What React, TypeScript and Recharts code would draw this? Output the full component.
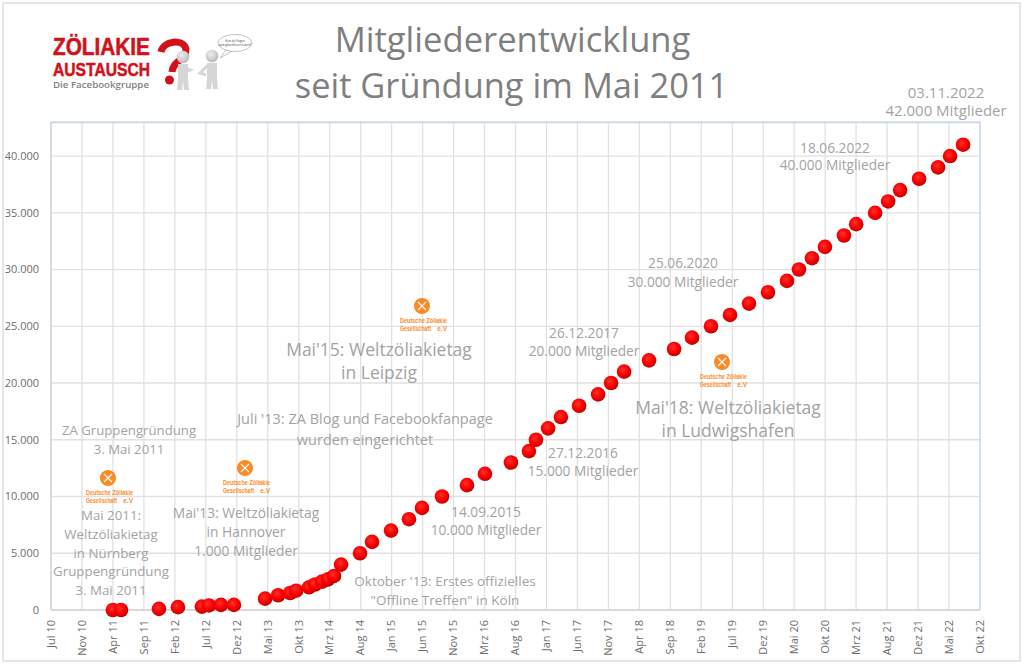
import React from "react";
import { ScatterChart, Scatter, XAxis, YAxis, CartesianGrid } from "recharts";

// days since 1 Jul 2010 on the date axis
const days = [300, 339, 523, 615, 731, 765, 823, 886, 1037, 1100, 1158, 1187, 1250, 1279, 1313, 1342, 1371, 1405, 1497, 1555, 1647, 1734, 1797, 1894, 2015, 2102, 2228, 2315, 2349, 2408, 2470, 2558, 2650, 2713, 2776, 2897, 3018, 3105, 3197, 3289, 3381, 3473, 3565, 3623, 3686, 3749, 3841, 3900, 3992, 4055, 4113, 4205, 4297, 4355, 4418];
const members = [0, 0, 100, 250, 300, 400, 450, 450, 1000, 1300, 1500, 1700, 2000, 2250, 2500, 2700, 3000, 4000, 5000, 6000, 7000, 8000, 9000, 10000, 11000, 12000, 13000, 14000, 15000, 16000, 17000, 18000, 19000, 20000, 21000, 22000, 23000, 24000, 25000, 26000, 27000, 28000, 29000, 30000, 31000, 32000, 33000, 34000, 35000, 36000, 37000, 38000, 39000, 40000, 41000];
const tickLabels = ["Jul 10", "Nov 10", "Apr 11", "Sep 11", "Feb 12", "Jul 12", "Dez 12", "Mai 13", "Okt 13", "Mrz 14", "Aug 14", "Jan 15", "Jun 15", "Nov 15", "Mrz 16", "Aug 16", "Jan 17", "Jun 17", "Nov 17", "Apr 18", "Sep 18", "Feb 19", "Jul 19", "Dez 19", "Mai 20", "Okt 20", "Mrz 21", "Aug 21", "Dez 21", "Mai 22", "Okt 22"];
const xTicks = tickLabels.map((_, i) => i * 150);
const yTicks = [0, 5000, 10000, 15000, 20000, 25000, 30000, 35000, 40000];
const rows = days.map((d, i) => ({ day: d, members: members[i] }));

const FONT = "'Open Sans', sans-serif";
const NARROW = "'Liberation Sans', sans-serif";
const notes: [number, number, number, number, string[]][] = [
  [946, 92, 15, 18, ["03.11.2022", "42.000 Mitglieder"]],
  [835, 147, 13.7, 17.5, ["18.06.2022", "40.000 Mitglieder"]],
  [683, 262, 13.7, 19, ["25.06.2020", "30.000 Mitglieder"]],
  [584, 332, 13.7, 18, ["26.12.2017", "20.000 Mitglieder"]],
  [379, 349, 17.5, 23, ["Mai'15: Weltzöliakietag", "in Leipzig"]],
  [728, 407, 17.5, 23, ["Mai'18: Weltzöliakietag", "in Ludwigshafen"]],
  [365, 418, 14.5, 21, ["Juli '13: ZA Blog und Facebookfanpage", "wurden eingerichtet"]],
  [129, 430, 13.2, 19, ["ZA Gruppengründung", "3. Mai 2011"]],
  [111, 515, 13.3, 18.8, ["Mai 2011:", "Weltzöliakietag", "in Nürnberg", "Gruppengründung", "3. Mai 2011"]],
  [246, 512, 13.8, 19, ["Mai'13: Weltzöliakietag", "in Hannover", "1.000 Mitglieder"]],
  [486, 511, 13.7, 18, ["14.09.2015", "10.000 Mitglieder"]],
  [583, 452, 13.7, 18, ["27.12.2016", "15.000 Mitglieder"]],
  [445, 581, 13.5, 19, ["Oktober '13: Erstes offizielles", "\"Offline Treffen\" in Köln"]],
];
const badges: [number, number][] = [[108, 478], [245, 468], [422, 306], [722, 362]];

const Ball = (p: any) => <circle cx={p.cx} cy={p.cy} r={7.3} fill="url(#ball)" />;

const Badge = ({ x, y }: { x: number; y: number }) => (
  <g>
    <circle cx={x} cy={y} r={8} fill="#fa8a24" />
    <path d={`M${x - 4} ${y - 4}L${x + 4} ${y + 4}M${x + 4} ${y - 4}L${x - 4} ${y + 4}`} stroke="#fff" strokeWidth={1.1} />
    <text x={x - 22} y={y + 17} fontFamily={NARROW} fontSize={6.5} fontWeight={700} fill="#fb8c2a" textLength={47} lengthAdjust="spacingAndGlyphs">Deutsche Zöliakie</text>
    <text x={x - 22} y={y + 25} fontFamily={NARROW} fontSize={6.5} fontWeight={700} fill="#fb8c2a" textLength={31} lengthAdjust="spacingAndGlyphs">Gesellschaft</text>
    <text x={x + 25} y={y + 25} textAnchor="end" fontFamily={NARROW} fontSize={6.5} fontWeight={700} fill="#fb8c2a">e.V</text>
  </g>
);

const Figure = ({ x, y, arm }: { x: number; y: number; arm: string }) => (
  <g fill="#d6d6d6">
    <circle cx={x} cy={y} r={6.3} fill="url(#head)" />
    <path d={`M${x - 5} ${y + 7}L${x + 5} ${y + 7}L${x + 5} ${y + 22}L${x + 6} ${y + 33}L${x + 1} ${y + 33}L${x} ${y + 24}L${x - 1} ${y + 33}L${x - 6} ${y + 33}L${x - 5} ${y + 22}Z`} />
    <path d={arm} fill="none" stroke="#d6d6d6" strokeWidth={3} />
  </g>
);

const Logo = () => (
  <g>
    <text x={53} y={55} fontFamily={NARROW} fontWeight={700} fontSize={23} fill="#d2111a" stroke="#d2111a" strokeWidth={0.5} textLength={97} lengthAdjust="spacingAndGlyphs">ZÖLIAKIE</text>
    <text x={53} y={76} fontFamily={NARROW} fontWeight={700} fontSize={18} fill="#d2111a" stroke="#d2111a" strokeWidth={0.5} textLength={97} lengthAdjust="spacingAndGlyphs">AUSTAUSCH</text>
    <text x={53} y={88} fontFamily={FONT} fontWeight={600} fontSize={9.5} fill="#7f7f7f" textLength={96} lengthAdjust="spacingAndGlyphs">Die Facebookgruppe</text>
    <path d="M161 52C163 41 183 38 186 49C187 60 173 60 172 72" fill="none" stroke="#d2111a" strokeWidth={7} />
    <circle cx={169.5} cy={80} r={4.5} fill="#d2111a" />
    <Figure x={183} y={57} arm="M178 66L190 70L180 74" />
    <Figure x={212} y={56} arm="M208 65L200 73L206 75" />
    <path d="M220 58L226 50L232 51Z" fill="#fff" stroke="#9a9a9a" strokeWidth={0.6} />
    <ellipse cx={235} cy={43} rx={17} ry={8.5} fill="#fff" stroke="#9a9a9a" strokeWidth={0.6} />
    <text x={235} y={41.5} textAnchor="middle" fontFamily={FONT} fontSize={2.8} fill="#333">Hast du Fragen</text>
    <text x={235} y={46} textAnchor="middle" fontFamily={FONT} fontSize={2.8} fill="#333">zum glutenfreien Leben?</text>
  </g>
);

export default function App() {
  return (
    <div style={{ position: "absolute", left: 0, top: 0, width: 1024, height: 667, background: "#fff" }}>
      <ScatterChart width={1024} height={667} margin={{ top: 122, right: 44, bottom: 0, left: 0 }}>
        <defs>
          <radialGradient id="ball" cx="0.42" cy="0.38" r="0.65">
            <stop offset="0" stopColor="#ff3030" />
            <stop offset="0.55" stopColor="#fb0000" />
            <stop offset="0.85" stopColor="#d80000" />
            <stop offset="1" stopColor="#a00000" />
          </radialGradient>
        </defs>
        <CartesianGrid stroke="#e1e1e1" strokeWidth={1.3} />
        <XAxis
          type="number"
          dataKey="day"
          domain={[0, 4500]}
          ticks={xTicks}
          interval={0}
          height={57}
          tickFormatter={(v: number) => tickLabels[v / 150]}
          angle={-90}
          textAnchor="end"
          dx={-4}
          dy={2}
          tick={{ fill: "#6d6d6d", fontSize: 11, fontFamily: FONT }}
          tickLine={false}
          axisLine={{ stroke: "#d4d4d4", strokeWidth: 1.5 }}
        />
        <YAxis
          type="number"
          dataKey="members"
          domain={[0, 43000]}
          ticks={yTicks}
          interval={0}
          width={51}
          tickFormatter={(v: number) => v.toLocaleString("de-DE")}
          tick={{ fill: "#6d6d6d", fontSize: 11, fontFamily: FONT }}
          tickLine={false}
          axisLine={{ stroke: "#d4d4d4", strokeWidth: 1.5 }}
          tickMargin={6}
        />
        <Scatter data={rows} shape={Ball} isAnimationActive={false} />
      </ScatterChart>
      <svg width={1024} height={667} style={{ position: "absolute", left: 0, top: 0, pointerEvents: "none" }}>
        <defs>
          <radialGradient id="head" cx="0.4" cy="0.35" r="0.7">
            <stop offset="0" stopColor="#eeeeee" />
            <stop offset="1" stopColor="#b5b5b5" />
          </radialGradient>
        </defs>
        <rect x={3} y={3} width={1017} height={658} fill="none" stroke="#e6e6e6" strokeWidth={2} />
        <path d="M51 122.5H980V610" fill="none" stroke="#c6d9ee" strokeWidth={1.3} />
        <Logo />
        {badges.map(([x, y], i) => <Badge key={i} x={x} y={y} />)}
        <text x={512.5} y={52} textAnchor="middle" fontFamily={FONT} fontSize={34.6} fill="#7f7f7f">Mitgliederentwicklung</text>
        <text x={511.5} y={98} textAnchor="middle" fontFamily={FONT} fontSize={34.4} fill="#7f7f7f">seit Gründung im Mai 2011</text>
        {notes.map(([x, y, size, gap, lines], i) =>
          lines.map((line, j) => (
            <text key={`${i}-${j}`} x={x} y={y + j * gap} dominantBaseline="central" textAnchor="middle" fontFamily={FONT} fontSize={size} fill="#a3a3a3">{line}</text>
          ))
        )}
      </svg>
    </div>
  );
}
